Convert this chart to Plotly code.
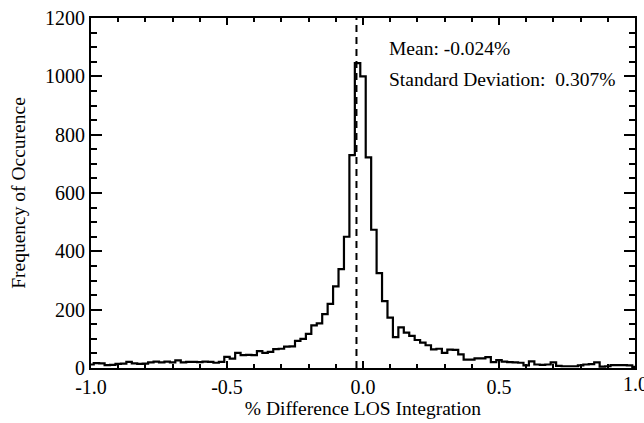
import numpy as np
import plotly.graph_objects as go

# bin centres (percent difference), step 0.02 from -1.0 to 1.0
bin_start = -1.0
bin_step = 0.02
counts = [
    12, 17, 16, 10, 11, 14, 15, 21, 16, 14,
    15, 19, 22, 19, 22, 19, 26, 19, 21, 21,
    20, 22, 21, 18, 21, 38, 32, 52, 44, 45,
    44, 58, 52, 55, 65, 66, 73, 74, 93, 100,
    117, 146, 153, 185, 220, 280, 339, 450, 730, 1045,
    1000, 722, 474, 325, 229, 173, 106, 139, 121, 110,
    96, 87, 78, 64, 66, 52, 63, 62, 47, 29,
    29, 33, 33, 37, 20, 27, 22, 20, 19, 18,
    9, 23, 12, 11, 12, 19, 7, 6, 6, 6,
    9, 12, 13, 19, 5, 6, 10, 10, 10, 9,
    4,
]
centers = [round(bin_start + bin_step * i, 4) for i in range(len(counts))]

mean_val = -0.024
std_val = 0.307
x_ticks = [-1.0, -0.5, 0.0, 0.5, 1.0]
x_tick_labels = ["-1.0", "-0.5", "0.0", "0.5", "1.0"]
y_ticks = [0, 200, 400, 600, 800, 1000, 1200]

FONT = "Liberation Serif"
TICK_SIZE = 20
TEXT_SIZE = 19.5

fig = go.Figure()
fig.add_trace(go.Scatter(
    x=centers, y=counts, mode="lines",
    line=dict(shape="hvh", color="black", width=2.2),
    showlegend=False, hoverinfo="skip",
))
fig.add_trace(go.Scatter(
    x=[mean_val, mean_val], y=[0, 1200], mode="lines",
    line=dict(color="black", width=2, dash="7px,5px"),
    showlegend=False, hoverinfo="skip",
))

annotations = [
    dict(x=0.088, y=1096, xref="x", yref="y", text=f"Mean: {mean_val:.3f}%",
         showarrow=False, xanchor="left", yanchor="middle",
         font=dict(family=FONT, size=TEXT_SIZE, color="black")),
    dict(x=0.088, y=988, xref="x", yref="y",
         text=f"Standard Deviation:  {std_val:.3f}%",
         showarrow=False, xanchor="left", yanchor="middle",
         font=dict(family=FONT, size=TEXT_SIZE, color="black")),
    # right-most x tick label (partly outside the page, as in the original)
    dict(x=x_ticks[-1], y=0, xref="x", yref="paper", text=x_tick_labels[-1],
         showarrow=False, xanchor="center", yanchor="middle", yshift=-16,
         font=dict(family=FONT, size=TICK_SIZE, color="black")),
]

fig.update_layout(
    width=644, height=423,
    margin=dict(l=91, r=7, t=13, b=54),
    paper_bgcolor="white", plot_bgcolor="white",
    font=dict(family=FONT, size=TICK_SIZE, color="black"),
    annotations=annotations,
)
fig.update_xaxes(
    range=[-1.0, 1.0], tickvals=x_ticks[:-1], ticktext=x_tick_labels[:-1],
    ticks="inside", ticklen=7, tickwidth=1.5, tickcolor="black",
    showline=True, linewidth=2, linecolor="black", mirror="allticks",
    showgrid=False, zeroline=False,
    minor=dict(dtick=0.1, ticks="inside", ticklen=4, tickwidth=1.5, tickcolor="black", showgrid=False),
    title=dict(text="% Difference LOS Integration", font=dict(family=FONT, size=TEXT_SIZE, color="black"), standoff=4),
    tickfont=dict(family=FONT, size=TICK_SIZE, color="black"),
)
fig.update_yaxes(
    range=[0, 1200], tickvals=y_ticks,
    ticks="inside", ticklen=11, tickwidth=1.5, tickcolor="black",
    showline=True, linewidth=2, linecolor="black", mirror="allticks",
    showgrid=False, zeroline=False,
    minor=dict(dtick=50, ticks="inside", ticklen=6, tickwidth=1.5, tickcolor="black", showgrid=False),
    title=dict(text="Frequency of Occurence", font=dict(family=FONT, size=TEXT_SIZE, color="black"), standoff=14),
    tickfont=dict(family=FONT, size=TICK_SIZE, color="black"),
)

fig.write_html("out.html")
